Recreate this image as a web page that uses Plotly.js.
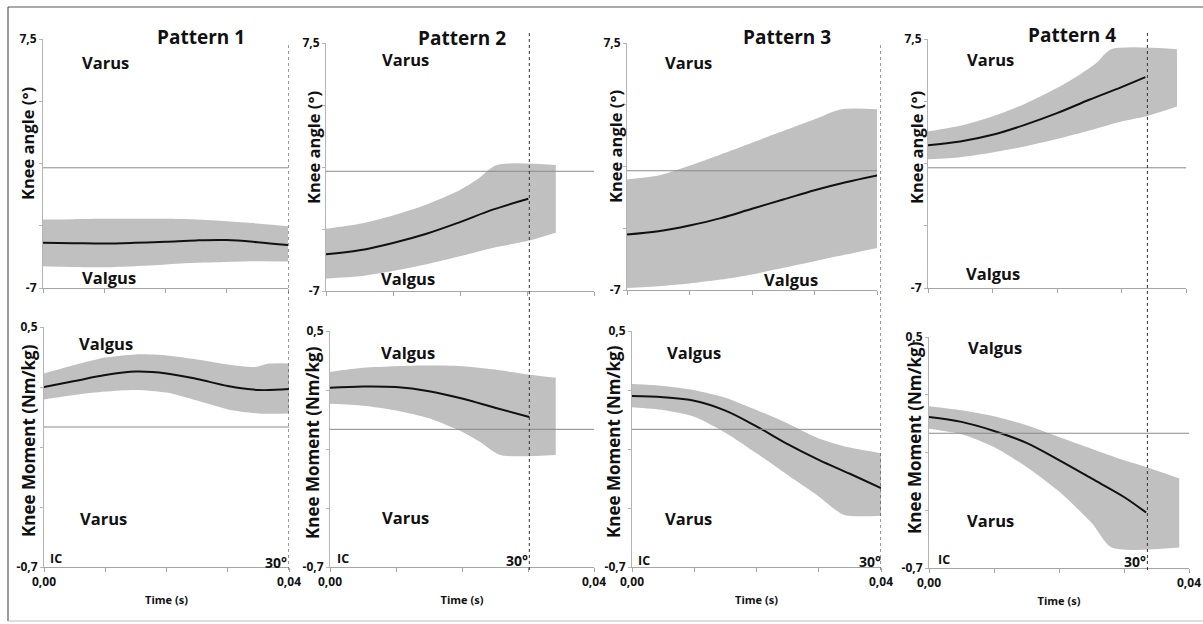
<!DOCTYPE html>
<html>
<head>
<meta charset="utf-8">
<script src="https://cdn.plot.ly/plotly-3.0.1.min.js"></script>
<style>html,body{margin:0;padding:0;background:#fff;}#chart{width:1203px;height:624px;}</style>
</head>
<body>
<div id="chart"></div>
<script>
// ---------------- DATA ----------------
const patternNames = ["Pattern 1", "Pattern 2", "Pattern 3", "Pattern 4"];
const angleTickVals = [-7, -3.375, 0.25, 3.875, 7.5];
const angleTickText = ["-7", "", "", "", "7,5"];
const momentTickVals = [-0.7, -0.4, -0.1, 0.2, 0.5];
const momentTickText = ["-0,7", "", "", "", "0,5"];
const timeTickVals = [0, 0.01, 0.02, 0.03, 0.04];
const timeTickText = ["0,00", "", "", "", "0,04"];
const angleRange = [-7, 7.5];
const momentRange = [-0.7, 0.5];
const timeRange = [0, 0.04];
const zeroLevel = 0;
// time (s) at which 30° knee flexion is reached, per pattern
const flexion30Time = [0.04, 0.0302, 0.04, 0.0336];

// Pattern 1 - knee angle
const p1AngleT = [0, 0.005, 0.01, 0.015, 0.02, 0.025, 0.03, 0.035, 0.04];
const p1AngleMean = [-4.37, -4.39, -4.41, -4.37, -4.31, -4.23, -4.21, -4.33, -4.50];
const p1AngleUpT = [0, 0.005, 0.01, 0.015, 0.02, 0.025, 0.03, 0.035, 0.04];
const p1AngleUp = [-3.01, -2.99, -2.97, -2.97, -2.97, -3.01, -3.11, -3.24, -3.40];
const p1AngleLoT = [0, 0.005, 0.01, 0.015, 0.02, 0.025, 0.03, 0.035, 0.04];
const p1AngleLo = [-5.73, -5.77, -5.79, -5.73, -5.63, -5.53, -5.48, -5.44, -5.46];
// Pattern 1 - knee moment
const p1MomT = [0, 0.005, 0.01, 0.015, 0.02, 0.025, 0.03, 0.035, 0.04];
const p1MomMean = [0.20, 0.23, 0.26, 0.277, 0.268, 0.24, 0.205, 0.185, 0.19];
const p1MomUpT = [0, 0.005, 0.01, 0.015, 0.02, 0.025, 0.03, 0.0345, 0.0365, 0.04];
const p1MomUp = [0.268, 0.31, 0.347, 0.363, 0.358, 0.338, 0.313, 0.30, 0.316, 0.318];
const p1MomLoT = [0, 0.005, 0.01, 0.015, 0.02, 0.025, 0.03, 0.035, 0.04];
const p1MomLo = [0.138, 0.16, 0.177, 0.185, 0.172, 0.132, 0.088, 0.068, 0.068];

// Pattern 2 - knee angle
const p2AngleT = [0, 0.005, 0.01, 0.015, 0.02, 0.025, 0.0302];
const p2AngleMean = [-4.85, -4.62, -4.19, -3.65, -2.97, -2.23, -1.61];
const p2AngleUpT = [0, 0.005, 0.01, 0.015, 0.02, 0.0225, 0.0255, 0.0343];
const p2AngleUp = [-3.36, -3.07, -2.58, -1.94, -1.09, -0.50, 0.37, 0.37];
const p2AngleLoT = [0, 0.005, 0.01, 0.015, 0.02, 0.025, 0.03, 0.0343];
const p2AngleLo = [-6.27, -6.14, -5.83, -5.44, -4.97, -4.47, -4.08, -3.59];
// Pattern 2 - knee moment
const p2MomT = [0, 0.005, 0.01, 0.015, 0.02, 0.025, 0.0302];
const p2MomMean = [0.211, 0.218, 0.215, 0.194, 0.157, 0.11, 0.0625];
const p2MomUpT = [0, 0.005, 0.01, 0.015, 0.02, 0.025, 0.03, 0.0342];
const p2MomUp = [0.292, 0.313, 0.321, 0.324, 0.321, 0.304, 0.279, 0.262];
const p2MomLoT = [0, 0.005, 0.01, 0.015, 0.02, 0.0227, 0.0258, 0.0342];
const p2MomLo = [0.130, 0.120, 0.096, 0.056, -0.012, -0.063, -0.130, -0.130];

// Pattern 3 - knee angle
const p3AngleT = [0, 0.005, 0.01, 0.015, 0.02, 0.025, 0.03, 0.035, 0.04];
const p3AngleMean = [-3.74, -3.55, -3.21, -2.78, -2.23, -1.69, -1.14, -0.67, -0.27];
const p3AngleUpT = [0, 0.005, 0.01, 0.015, 0.02, 0.025, 0.03, 0.0343, 0.04];
const p3AngleUp = [-0.51, -0.28, 0.30, 0.96, 1.65, 2.33, 3.02, 3.61, 3.61];
const p3AngleLoT = [0, 0.005, 0.01, 0.015, 0.02, 0.025, 0.03, 0.035, 0.04];
const p3AngleLo = [-6.88, -6.78, -6.62, -6.39, -6.09, -5.70, -5.31, -4.92, -4.53];
// Pattern 3 - knee moment
const p3MomT = [0, 0.005, 0.01, 0.015, 0.02, 0.025, 0.03, 0.035, 0.04];
const p3MomMean = [0.169, 0.163, 0.145, 0.095, 0.015, -0.075, -0.155, -0.226, -0.299];
const p3MomUpT = [0, 0.005, 0.01, 0.015, 0.02, 0.025, 0.03, 0.035, 0.04];
const p3MomUp = [0.230, 0.220, 0.199, 0.161, 0.098, 0.030, -0.046, -0.093, -0.122];
const p3MomLoT = [0, 0.005, 0.01, 0.015, 0.02, 0.025, 0.03, 0.034, 0.04];
const p3MomLo = [0.112, 0.098, 0.064, -0.017, -0.122, -0.232, -0.341, -0.434, -0.439];

// Pattern 4 - knee angle
const p4AngleT = [0, 0.005, 0.01, 0.015, 0.02, 0.025, 0.03, 0.0337];
const p4AngleMean = [1.32, 1.53, 1.92, 2.50, 3.18, 3.96, 4.70, 5.28];
const p4AngleUpT = [0, 0.005, 0.01, 0.015, 0.02, 0.0235, 0.0261, 0.0284, 0.0386];
const p4AngleUp = [2.12, 2.45, 2.99, 3.72, 4.64, 5.42, 6.10, 6.91, 6.91];
const p4AngleLoT = [0, 0.005, 0.01, 0.015, 0.02, 0.025, 0.03, 0.0337, 0.0386];
const p4AngleLo = [0.50, 0.62, 0.89, 1.24, 1.67, 2.17, 2.70, 2.99, 3.57];
// Pattern 4 - knee moment
const p4MomT = [0, 0.005, 0.01, 0.015, 0.02, 0.025, 0.03, 0.0334];
const p4MomMean = [0.085, 0.059, 0.012, -0.050, -0.140, -0.235, -0.331, -0.412];
const p4MomUpT = [0, 0.005, 0.01, 0.015, 0.02, 0.025, 0.03, 0.0334, 0.0385];
const p4MomUp = [0.140, 0.119, 0.088, 0.042, -0.019, -0.080, -0.140, -0.175, -0.235];
const p4MomLoT = [0, 0.005, 0.01, 0.015, 0.0201, 0.0251, 0.0281, 0.0385];
const p4MomLo = [0.024, -0.005, -0.071, -0.175, -0.305, -0.469, -0.594, -0.594];

// ---------------- LAYOUT HELPERS ----------------
const W = 1203, H = 624;
const FONT = "'Open Sans', 'Noto Sans', 'DejaVu Sans', sans-serif";
const px = v => v / W;
const py = v => 1 - v / H;
const bold = s => s ? "<b>" + s + "</b>" : "";

// pixel boxes of the 8 plot areas [left, right, top, bottom]
const boxes = [
  [43, 288, 39, 288], [326, 594, 43, 291], [627, 877, 43, 290], [928, 1186, 39, 288],
  [44, 289, 327, 567], [330, 594, 331, 567], [632, 881, 331, 567], [929, 1189, 337, 568]
];

const panels = [
  {t: p1AngleT, m: p1AngleMean, ut: p1AngleUpT, u: p1AngleUp, lt: p1AngleLoT, l: p1AngleLo},
  {t: p2AngleT, m: p2AngleMean, ut: p2AngleUpT, u: p2AngleUp, lt: p2AngleLoT, l: p2AngleLo},
  {t: p3AngleT, m: p3AngleMean, ut: p3AngleUpT, u: p3AngleUp, lt: p3AngleLoT, l: p3AngleLo},
  {t: p4AngleT, m: p4AngleMean, ut: p4AngleUpT, u: p4AngleUp, lt: p4AngleLoT, l: p4AngleLo},
  {t: p1MomT, m: p1MomMean, ut: p1MomUpT, u: p1MomUp, lt: p1MomLoT, l: p1MomLo},
  {t: p2MomT, m: p2MomMean, ut: p2MomUpT, u: p2MomUp, lt: p2MomLoT, l: p2MomLo},
  {t: p3MomT, m: p3MomMean, ut: p3MomUpT, u: p3MomUp, lt: p3MomLoT, l: p3MomLo},
  {t: p4MomT, m: p4MomMean, ut: p4MomUpT, u: p4MomUp, lt: p4MomLoT, l: p4MomLo}
];

const traces = [];
const layout = {
  width: W, height: H,
  margin: {l: 0, r: 0, t: 0, b: 0},
  paper_bgcolor: "#ffffff", plot_bgcolor: "rgba(0,0,0,0)",
  showlegend: false,
  font: {family: FONT, color: "#111"},
  shapes: [], annotations: []
};

panels.forEach((p, i) => {
  const n = i + 1;
  const xa = n === 1 ? "x" : "x" + n;
  const ya = n === 1 ? "y" : "y" + n;
  const isAngle = i < 4;
  const b = boxes[i];
  // band: upper edge, then lower edge filled to it
  traces.push({
    type: "scatter", mode: "lines", xaxis: xa, yaxis: ya,
    x: p.ut, y: p.u,
    line: {width: 0, color: "#c0c0c0", shape: "spline", smoothing: 0.7}, hoverinfo: "skip"
  });
  traces.push({
    type: "scatter", mode: "lines", xaxis: xa, yaxis: ya,
    x: p.lt, y: p.l, fill: "tonexty", fillcolor: "#c0c0c0",
    line: {width: 0, color: "#c0c0c0", shape: "spline", smoothing: 0.7}, hoverinfo: "skip"
  });
  // mean
  traces.push({
    type: "scatter", mode: "lines", xaxis: xa, yaxis: ya,
    x: p.t, y: p.m,
    line: {color: "#111", width: 2, shape: "spline", smoothing: 1}, hoverinfo: "skip"
  });
  layout["xaxis" + (n === 1 ? "" : n)] = {
    domain: [px(b[0]), px(b[1])], anchor: ya, range: timeRange,
    showline: true, linecolor: "#a6a6a6", linewidth: 1,
    ticks: "outside", ticklen: 4, tickcolor: "#a6a6a6",
    tickvals: timeTickVals, ticktext: (isAngle ? ["", "", "", "", ""] : timeTickText).map(bold),
    tickfont: {size: 12, family: FONT, color: "#111"},
    showgrid: false, zeroline: false, fixedrange: true,
    title: isAngle ? {text: ""} : {text: "<b>Time (s)</b>", font: {size: 11, family: FONT, color: "#111"}, standoff: 6}
  };
  layout["yaxis" + (n === 1 ? "" : n)] = {
    domain: [py(b[3]), py(b[2])], anchor: xa, range: isAngle ? angleRange : momentRange,
    showline: true, linecolor: "#b4b4b4", linewidth: 1,
    ticks: "outside", ticklen: 3, tickcolor: "#b4b4b4",
    tickvals: isAngle ? angleTickVals : momentTickVals,
    ticktext: (isAngle ? angleTickText : momentTickText).map(bold),
    tickfont: {size: 12, family: FONT, color: "#111"},
    showgrid: false, zeroline: false, fixedrange: true
  };
  // zero reference line
  layout.shapes.push({
    type: "line", xref: xa + " domain", yref: ya, x0: 0, x1: 1, y0: zeroLevel, y1: zeroLevel,
    line: {color: "#8a8a8a", width: 1}, layer: "above"
  });
});

// dotted 30° flexion lines (spanning both rows of each pattern)
const dotTop = [43, 30, 43, 33];
flexion30Time.forEach((t, k) => {
  const xa = "x" + (k + 5);
  layout.shapes.push({
    type: "line", xref: xa, yref: "paper", x0: t, x1: t,
    y0: py(570), y1: py(dotTop[k]),
    line: {color: "#333", width: 1, dash: "dot"}, layer: "above"
  });
});

// frame
layout.shapes.push({type: "line", xref: "paper", yref: "paper", x0: px(8), x1: 1, y0: py(7), y1: py(7), line: {color: "#555", width: 1.2}});
layout.shapes.push({type: "line", xref: "paper", yref: "paper", x0: px(8), x1: px(8), y0: py(7), y1: py(621), line: {color: "#555", width: 1.2}});
layout.shapes.push({type: "line", xref: "paper", yref: "paper", x0: px(8), x1: 1, y0: py(621), y1: py(621), line: {color: "#bbb", width: 1}});

// text annotations
function ann(text, x, y, size, angle) {
  layout.annotations.push({
    text: "<b>" + text + "</b>", xref: "paper", yref: "paper", x: px(x), y: py(y),
    xanchor: "center", yanchor: "middle", showarrow: false, textangle: angle || 0,
    font: {size: size, family: FONT, color: "#111"}
  });
}
const titlePos = [[201, 37], [462, 38], [787, 37], [1072, 35]];
patternNames.forEach((nm, k) => ann(nm, titlePos[k][0], titlePos[k][1], 19));

const varusTop = [[105, 63], [405, 60], [688, 63], [990, 60]];
const valgusTop = [[109, 277], [408, 278], [791, 279], [993, 273]];
const valgusBot = [[106, 343], [408, 352], [694, 352], [995, 347]];
const varusBot = [[103, 518], [405, 517], [688, 518], [991, 520]];
const icPos = [[56, 558], [343, 558], [644, 560], [944, 559]];
const deg30Pos = [[276, 562], [517, 560], [870, 561], [1135, 561]];
const angTitle = [[27, 144], [313, 148], [615, 147], [916, 147]];
const momTitle = [[28, 441], [312, 443], [613, 442], [915, 438]];
for (let k = 0; k < 4; k++) {
  ann("Varus", varusTop[k][0], varusTop[k][1], 16.5);
  ann("Valgus", valgusTop[k][0], valgusTop[k][1], 16.5);
  ann("Valgus", valgusBot[k][0], valgusBot[k][1], 16.5);
  ann("Varus", varusBot[k][0], varusBot[k][1], 16.5);
  ann("IC", icPos[k][0], icPos[k][1], 12.5);
  ann("30°", deg30Pos[k][0], deg30Pos[k][1], 14);
  ann("Knee angle (°)", angTitle[k][0], angTitle[k][1], 16.5, -90);
  ann("Knee Moment (Nm/kg)", momTitle[k][0], momTitle[k][1], 17, -90);
}

Plotly.newPlot("chart", traces, layout, {staticPlot: true, displayModeBar: false});
</script>
</body>
</html>
